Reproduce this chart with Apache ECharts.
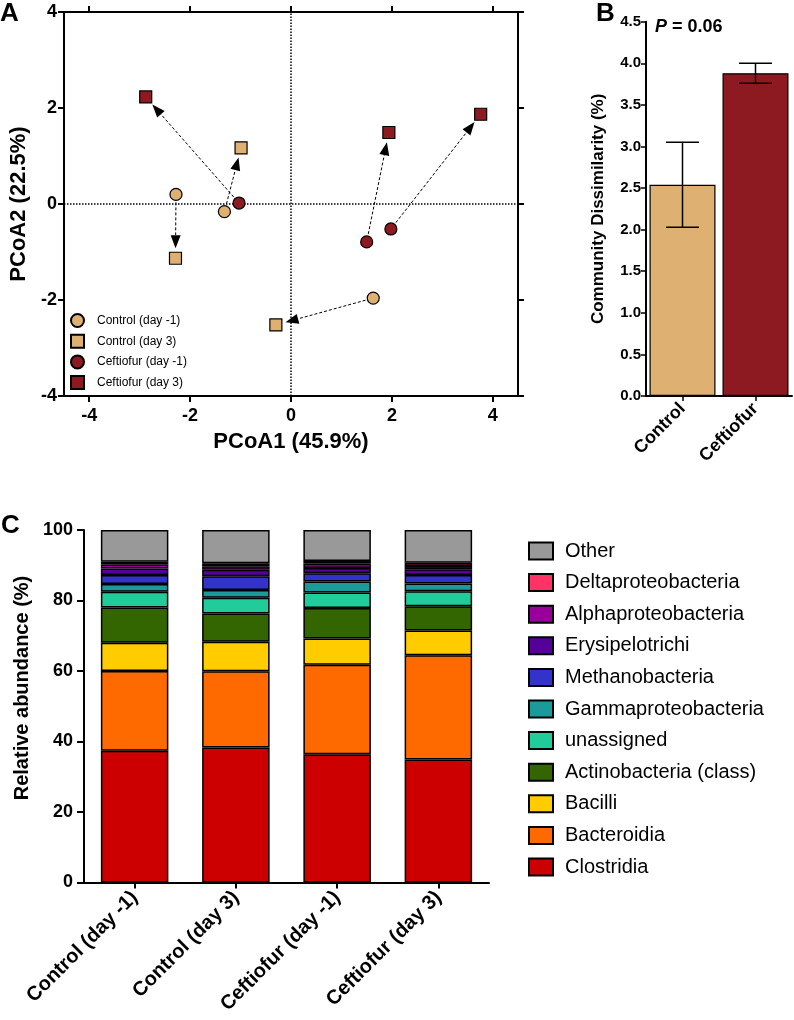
<!DOCTYPE html>
<html><head><meta charset="utf-8">
<script src="https://cdn.jsdelivr.net/npm/echarts@6/dist/echarts.min.js"></script>
<style>html,body{margin:0;padding:0;background:#fff}#c{width:794px;height:1020px}</style>
</head><body><div id="c"></div>
<script>
const FONT = '"Liberation Sans", Arial, Helvetica, sans-serif';
// ---------- Panel A : PCoA ----------
const pcoaTicks = [-4, -2, 0, 2, 4];
const controlDayM1 = [[-2.28, 0.20], [-1.32, -0.16], [1.63, -1.96]];
const controlDay3  = [[-2.29, -1.13], [-0.99, 1.17], [-0.30, -2.52]];
const ceftDayM1    = [[-1.03, 0.02], [1.50, -0.79], [1.98, -0.52]];
const ceftDay3     = [[-2.88, 2.23], [1.94, 1.49], [3.76, 1.87]];
const pcoaNames = ['Control (day -1)', 'Control (day 3)', 'Ceftiofur (day -1)', 'Ceftiofur (day 3)'];
// ---------- Panel B : dissimilarity ----------
const groupsB = ['Control', 'Ceftiofur'];
const dissimMean = [2.54, 3.88];
const dissimErr = [0.51, 0.12];
// ---------- Panel C : relative abundance ----------
const samples = ['Control (day -1)', 'Control (day 3)', 'Ceftiofur (day -1)', 'Ceftiofur (day 3)'];
const clostridia   = [37.4, 38.3, 36.4, 34.9];
const bacteroidia  = [22.6, 21.6, 25.4, 29.6];
const bacilli      = [8.0, 8.4, 7.4, 7.0];
const actinobact   = [10.0, 8.0, 8.7, 6.9];
const unassigned   = [4.5, 4.5, 4.4, 4.2];
const gammaprot    = [2.2, 2.2, 3.1, 2.2];
const methanobact  = [2.5, 3.9, 2.3, 2.4];
const erysipelo    = [1.9, 1.8, 1.5, 1.7];
const alphaprot    = [1.2, 1.0, 1.2, 0.9];
const deltaprot    = [0.7, 0.9, 0.8, 0.9];
const other        = [9.0, 9.4, 8.8, 9.3];

const TAN = '#DEB072', RED = '#8E1A21';
const taxa = [
  ['Clostridia', clostridia, '#CC0000'],
  ['Bacteroidia', bacteroidia, '#FF6A00'],
  ['Bacilli', bacilli, '#FFCC00'],
  ['Actinobacteria (class)', actinobact, '#336600'],
  ['unassigned', unassigned, '#20CC99'],
  ['Gammaproteobacteria', gammaprot, '#1A9A9A'],
  ['Methanobacteria', methanobact, '#3333CC'],
  ['Erysipelotrichi', erysipelo, '#550099'],
  ['Alphaproteobacteria', alphaprot, '#990099'],
  ['Deltaproteobacteria', deltaprot, '#FF3366'],
  ['Other', other, '#999999']
];

const arrowData = controlDayM1.map((p, i) => [p[0], p[1], controlDay3[i][0], controlDay3[i][1]])
  .concat(ceftDayM1.map((p, i) => [p[0], p[1], ceftDay3[i][0], ceftDay3[i][1]]));

function arrowItem(params, api) {
  const p1 = api.coord([api.value(0), api.value(1)]);
  const p2 = api.coord([api.value(2), api.value(3)]);
  const dx = p2[0] - p1[0], dy = p2[1] - p1[1];
  const L = Math.hypot(dx, dy); const ux = dx / L, uy = dy / L; const nx = -uy, ny = ux;
  const s = [p1[0] + ux * 8, p1[1] + uy * 8];
  const tip = [p2[0] - ux * 10, p2[1] - uy * 10];
  const hl = 13, hw = 5;
  const base = [tip[0] - ux * hl, tip[1] - uy * hl];
  return { type: 'group', children: [
    { type: 'line', shape: { x1: s[0], y1: s[1], x2: base[0], y2: base[1] }, style: { stroke: '#000', lineWidth: 1, lineDash: [3, 2] } },
    { type: 'polygon', shape: { points: [tip, [base[0] + nx * hw, base[1] + ny * hw], [base[0] - nx * hw, base[1] - ny * hw]] }, style: { fill: '#000' } }
  ]};
}
function errItem(params, api) {
  const i = api.value(0);
  const lo = api.coord([i, api.value(1)]);
  const hi = api.coord([i, api.value(2)]);
  const hw = 16.5;
  const st = { stroke: '#000', lineWidth: 1.5 };
  return { type: 'group', children: [
    { type: 'line', shape: { x1: lo[0], y1: lo[1], x2: hi[0], y2: hi[1] }, style: st },
    { type: 'line', shape: { x1: lo[0] - hw, y1: lo[1], x2: lo[0] + hw, y2: lo[1] }, style: st },
    { type: 'line', shape: { x1: hi[0] - hw, y1: hi[1], x2: hi[0] + hw, y2: hi[1] }, style: st }
  ]};
}

const axLine = { show: true, onZero: false, lineStyle: { color: '#000', width: 2 } };
const tickOut = { show: true, length: 6, lineStyle: { color: '#000', width: 2 } };
const boldLbl = (sz, extra) => Object.assign({ color: '#000', fontFamily: FONT, fontWeight: 'bold', fontSize: sz }, extra || {});

const chart = echarts.init(document.getElementById('c'), null, { renderer: 'canvas' });
const option = {
  animation: false,
  backgroundColor: '#fff',
  textStyle: { fontFamily: FONT },
  grid: [
    { left: 63, top: 12, width: 455, height: 384 },
    { left: 646, top: 21.7, width: 146, height: 374.3 },
    { left: 84, top: 530, width: 405, height: 352.5 }
  ],
  xAxis: [
    { gridIndex: 0, type: 'value', min: -4.5, max: 4.5, position: 'bottom',
      axisLine: axLine, axisTick: Object.assign({ customValues: pcoaTicks }, tickOut),
      axisLabel: boldLbl(18, { customValues: pcoaTicks, margin: 11 }), splitLine: { show: false },
      name: 'PCoA1 (45.9%)', nameLocation: 'middle', nameGap: 35, nameTextStyle: boldLbl(22) },
    { gridIndex: 0, type: 'value', min: -4.5, max: 4.5, position: 'top',
      axisLine: axLine, axisTick: Object.assign({ customValues: pcoaTicks }, tickOut),
      axisLabel: { show: false }, splitLine: { show: false } },
    { gridIndex: 1, type: 'category', data: groupsB, axisLine: axLine,
      axisTick: { show: true, alignWithLabel: true, length: 5, lineStyle: { color: '#000', width: 1.5 } },
      axisLabel: boldLbl(18, { rotate: 45, margin: 10, interval: 0 }) },
    { gridIndex: 2, type: 'category', data: samples, axisLine: axLine,
      axisTick: { show: true, alignWithLabel: true, length: 6, lineStyle: { color: '#000', width: 2 } },
      axisLabel: boldLbl(20, { rotate: 45, margin: 12, interval: 0 }) }
  ],
  yAxis: [
    { gridIndex: 0, type: 'value', min: -4, max: 4, interval: 2, position: 'left',
      axisLine: axLine, axisTick: tickOut, axisLabel: boldLbl(18, { margin: 7 }), splitLine: { show: false },
      name: 'PCoA2 (22.5%)', nameLocation: 'middle', nameGap: 34, nameTextStyle: boldLbl(22) },
    { gridIndex: 0, type: 'value', min: -4, max: 4, interval: 2, position: 'right',
      axisLine: axLine, axisTick: tickOut, axisLabel: { show: false }, splitLine: { show: false } },
    { gridIndex: 1, type: 'value', min: 0, max: 4.5, interval: 0.5,
      axisLine: axLine, axisTick: { show: true, length: 5, lineStyle: { color: '#000', width: 1.5 } },
      axisLabel: boldLbl(15, { margin: 5, formatter: v => v.toFixed(1) }), splitLine: { show: false },
      name: 'Community Dissimilarity (%)', nameLocation: 'middle', nameGap: 39, nameTextStyle: boldLbl(17) },
    { gridIndex: 2, type: 'value', min: 0, max: 100, interval: 20,
      axisLine: axLine, axisTick: { show: true, length: 7, lineStyle: { color: '#000', width: 2 } },
      axisLabel: boldLbl(18, { margin: 11 }), splitLine: { show: false } }
  ],
  legend: [
    { data: pcoaNames, orient: 'vertical', left: 65, top: 308, itemWidth: 13, itemHeight: 13, itemGap: 5.7,
      selectedMode: false, textStyle: { fontSize: 12, fontFamily: FONT, color: '#000', padding: [0, 0, 0, 8] } },
    { data: taxa.map(t => t[0]).slice().reverse(), orient: 'vertical', left: 523, top: 536,
      icon: 'rect', itemWidth: 24, itemHeight: 17, itemGap: 11.6, selectedMode: false,
      textStyle: { fontSize: 20, fontFamily: FONT, color: '#000', padding: [0, 0, 0, 7] } }
  ],
  graphic: [
    { type: 'text', left: 0, top: 1, style: { text: 'A', font: 'bold 26px ' + FONT, fill: '#000' } },
    { type: 'text', left: 596, top: 1, style: { text: 'B', font: 'bold 26px ' + FONT, fill: '#000' } },
    { type: 'text', left: 1, top: 513, style: { text: 'C', font: 'bold 26px ' + FONT, fill: '#000' } },
    { type: 'text', left: 655, top: 18, style: { text: '{i|P}{b| = 0.06}', fill: '#000',
      rich: { i: { font: 'italic bold 18px ' + FONT, fill: '#000' }, b: { font: 'bold 18px ' + FONT, fill: '#000' } } } },
    { type: 'text', x: 22, y: 688, rotation: Math.PI / 2,
      style: { text: 'Relative abundance (%)', font: 'bold 20px ' + FONT, fill: '#000', textAlign: 'center', textVerticalAlign: 'middle' } }
  ],
  series: [
    { type: 'custom', xAxisIndex: 0, yAxisIndex: 0, renderItem: arrowItem, data: arrowData,
      encode: { x: [0, 2], y: [1, 3] }, z: 2, silent: true },
    { type: 'scatter', name: pcoaNames[0], xAxisIndex: 0, yAxisIndex: 0, data: controlDayM1, symbol: 'circle', symbolSize: 12,
      itemStyle: { color: TAN, borderColor: '#000', borderWidth: 1.2, opacity: 1 }, z: 5,
      markLine: { silent: true, symbol: 'none', label: { show: false },
        lineStyle: { color: '#000', type: 'dotted', width: 1.5 },
        data: [{ xAxis: 0 }, { yAxis: 0 }] } },
    { type: 'scatter', name: pcoaNames[1], xAxisIndex: 0, yAxisIndex: 0, data: controlDay3, symbol: 'rect', symbolSize: 12,
      itemStyle: { color: TAN, borderColor: '#000', borderWidth: 1.2, opacity: 1 }, z: 5 },
    { type: 'scatter', name: pcoaNames[2], xAxisIndex: 0, yAxisIndex: 0, data: ceftDayM1, symbol: 'circle', symbolSize: 12,
      itemStyle: { color: RED, borderColor: '#000', borderWidth: 1.2, opacity: 1 }, z: 5 },
    { type: 'scatter', name: pcoaNames[3], xAxisIndex: 0, yAxisIndex: 0, data: ceftDay3, symbol: 'rect', symbolSize: 12,
      itemStyle: { color: RED, borderColor: '#000', borderWidth: 1.2, opacity: 1 }, z: 5 },
    { type: 'bar', xAxisIndex: 2, yAxisIndex: 2, barWidth: 66,
      data: dissimMean.map((v, i) => ({ value: v, itemStyle: { color: i === 0 ? TAN : RED } })),
      itemStyle: { borderColor: '#000', borderWidth: 1.2 } },
    { type: 'custom', xAxisIndex: 2, yAxisIndex: 2, renderItem: errItem,
      data: dissimMean.map((v, i) => [i, v - dissimErr[i], v + dissimErr[i]]), encode: { x: 0, y: [1, 2] }, z: 5, silent: true }
  ].concat(taxa.map(t => ({
    type: 'bar', name: t[0], stack: 'abund', xAxisIndex: 3, yAxisIndex: 3, data: t[1], barWidth: 67.5,
    itemStyle: { color: t[2], borderColor: '#000', borderWidth: 1.5 }
  })))
};
chart.setOption(option);
</script>
</body></html>
